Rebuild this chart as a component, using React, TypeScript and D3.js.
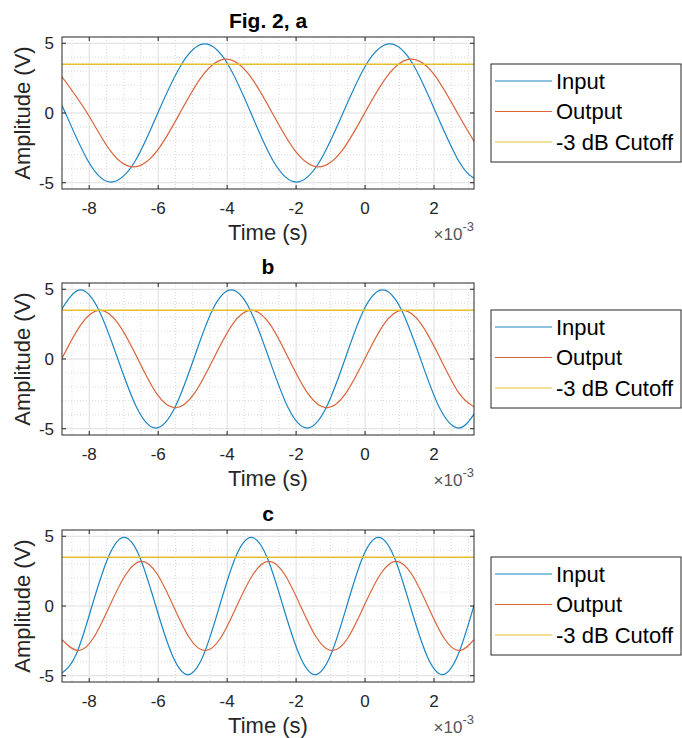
import React from "react";
import * as d3 from "d3";

// ---- Data (time in ms, i.e. ×10^-3 s; amplitude in V) ----
const panelTitles = ["Fig. 2, a", "b", "c"];
const seriesNames = ["Input", "Output", "-3 dB Cutoff"];
const xTicks = [-8, -6, -4, -2, 0, 2];
const yTicks = [-5, 0, 5];
const cutoffLevel = [3.5, 3.5, 3.5];

const inputA: [number, number][] = [
  [-8.79, 0.4], [-8.69, 0], [-8.02, -3.5], [-7.35, -4.95], [-6.68, -3.5], [-6.01, 0],
  [-5.32, 3.5], [-4.65, 4.95], [-3.98, 3.5], [-3.31, 0], [-2.65, -3.5], [-1.99, -4.95],
  [-1.32, -3.5], [-0.64, 0], [0.04, 3.5], [0.72, 4.95], [1.39, 3.5], [2.06, 0],
  [2.73, -3.5], [3.16, -4.68],
];
const outputA: [number, number][] = [
  [-8.79, 2.6], [-8.06, 0], [-7.38, -2.74], [-6.71, -3.87], [-6.04, -2.74], [-5.37, 0],
  [-4.7, 2.74], [-4.03, 3.87], [-3.36, 2.74], [-2.69, 0], [-2.02, -2.74], [-1.35, -3.87],
  [-0.68, -2.74], [-0.01, 0], [0.67, 2.74], [1.34, 3.87], [2.01, 2.74], [2.68, 0],
  [3.16, -2.02],
];
const inputB: [number, number][] = [
  [-8.79, 3.6], [-8.27, 4.95], [-7.72, 3.5], [-7.17, 0], [-6.62, -3.5], [-6.07, -4.95],
  [-5.52, -3.5], [-4.97, 0], [-4.43, 3.5], [-3.88, 4.95], [-3.33, 3.5], [-2.78, 0],
  [-2.23, -3.5], [-1.68, -4.95], [-1.13, -3.5], [-0.58, 0], [-0.04, 3.5], [0.51, 4.95],
  [1.06, 3.5], [1.61, 0], [2.16, -3.5], [2.71, -4.95], [3.16, -3.95],
];
const outputB: [number, number][] = [
  [-8.79, 0.05], [-8.24, 2.47], [-7.69, 3.5], [-7.14, 2.47], [-6.59, 0], [-6.05, -2.47],
  [-5.5, -3.5], [-4.95, -2.47], [-4.4, 0], [-3.85, 2.47], [-3.3, 3.5], [-2.75, 2.47],
  [-2.21, 0], [-1.66, -2.47], [-1.11, -3.5], [-0.56, -2.47], [-0.01, 0], [0.54, 2.47],
  [1.09, 3.5], [1.64, 2.47], [2.19, 0], [2.73, -2.47], [3.16, -3.43],
];
const inputC: [number, number][] = [
  [-8.79, -4.8], [-8.38, -3.48], [-7.92, 0], [-7.45, 3.48], [-6.99, 4.92], [-6.53, 3.48],
  [-6.07, 0], [-5.6, -3.48], [-5.14, -4.92], [-4.68, -3.48], [-4.22, 0], [-3.76, 3.48],
  [-3.3, 4.92], [-2.84, 3.48], [-2.38, 0], [-1.91, -3.48], [-1.45, -4.92], [-0.99, -3.48],
  [-0.53, 0], [-0.07, 3.48], [0.39, 4.92], [0.85, 3.48], [1.31, 0], [1.78, -3.48],
  [2.24, -4.92], [2.7, -3.48], [3.16, 0.05],
];
const outputC: [number, number][] = [
  [-8.79, -2.42], [-8.33, -3.2], [-7.87, -2.26], [-7.41, 0], [-6.94, 2.26], [-6.48, 3.2],
  [-6.02, 2.26], [-5.56, 0], [-5.1, -2.26], [-4.64, -3.2], [-4.18, -2.26], [-3.72, 0],
  [-3.25, 2.26], [-2.79, 3.2], [-2.33, 2.26], [-1.87, 0], [-1.41, -2.26], [-0.95, -3.2],
  [-0.49, -2.26], [-0.03, 0], [0.44, 2.26], [0.9, 3.2], [1.36, 2.26], [1.82, 0],
  [2.28, -2.26], [2.74, -3.2], [3.16, -2.41],
];

const inputs = [inputA, inputB, inputC];
const outputs = [outputA, outputB, outputC];

// ---- Layout / style ----
const W = 682;
const H = 738;
const X_DOMAIN: [number, number] = [-8.79, 3.16];
const Y_DOMAIN: [number, number] = [-5.45, 5.45];
const PLOT_LEFT = 62;
const PLOT_RIGHT = 474;
const PANEL_TOPS = [37, 283, 530];
const PLOT_H = 152;
const COLORS = ["#1a85c4", "#d9643a", "#e3bf2e"];
const AXIS = "#262626";
const FONT = "'Liberation Sans', Arial, Helvetica, sans-serif";

function Panel({ idx }: { idx: number }) {
  const top = PANEL_TOPS[idx];
  const bottom = top + PLOT_H;
  const x = d3.scaleLinear().domain(X_DOMAIN).range([PLOT_LEFT, PLOT_RIGHT]);
  const y = d3.scaleLinear().domain(Y_DOMAIN).range([bottom, top]);
  const line = d3
    .line<[number, number]>()
    .x((d) => x(d[0]))
    .y((d) => y(d[1]))
    .curve(d3.curveNatural);

  const minorX = d3.range(-8.5, 3.2, 0.5).filter((v) => Math.abs(v / 2 - Math.round(v / 2)) > 1e-6 && v >= X_DOMAIN[0] && v <= X_DOMAIN[1]);
  const minorY = d3.range(-5, 5.01, 1).filter((v) => !yTicks.includes(v));
  const clipId = `clip-${idx}`;
  const cutoff = cutoffLevel[idx];
  const legTop = (top + bottom) / 2 - 49;
  const legRows = [17, 47.5, 78];

  return (
    <g>
      <defs>
        <clipPath id={clipId}>
          <rect x={PLOT_LEFT} y={top} width={PLOT_RIGHT - PLOT_LEFT} height={PLOT_H} />
        </clipPath>
      </defs>
      <rect x={PLOT_LEFT} y={top} width={PLOT_RIGHT - PLOT_LEFT} height={PLOT_H} fill="#fff" />
      {/* minor grid */}
      {minorX.map((v) => (
        <line key={`mx${v}`} x1={x(v)} x2={x(v)} y1={top} y2={bottom} stroke="#cfcfcf" strokeWidth={0.8} strokeDasharray="1,2" />
      ))}
      {minorY.map((v) => (
        <line key={`my${v}`} x1={PLOT_LEFT} x2={PLOT_RIGHT} y1={y(v)} y2={y(v)} stroke="#cfcfcf" strokeWidth={0.8} strokeDasharray="1,2" />
      ))}
      {/* major grid */}
      {xTicks.map((v) => (
        <line key={`gx${v}`} x1={x(v)} x2={x(v)} y1={top} y2={bottom} stroke="#dedede" strokeWidth={1} />
      ))}
      {yTicks.map((v) => (
        <line key={`gy${v}`} x1={PLOT_LEFT} x2={PLOT_RIGHT} y1={y(v)} y2={y(v)} stroke="#dedede" strokeWidth={1} />
      ))}
      {/* series */}
      <g clipPath={`url(#${clipId})`}>
        <path d={line(inputs[idx]) || ""} fill="none" stroke={COLORS[0]} strokeWidth={1.2} />
        <path d={line(outputs[idx]) || ""} fill="none" stroke={COLORS[1]} strokeWidth={1.2} />
        <line x1={x(X_DOMAIN[0])} x2={x(X_DOMAIN[1])} y1={y(cutoff)} y2={y(cutoff)} stroke={COLORS[2]} strokeWidth={1.5} />
      </g>
      {/* box */}
      <rect x={PLOT_LEFT} y={top} width={PLOT_RIGHT - PLOT_LEFT} height={PLOT_H} fill="none" stroke={AXIS} strokeWidth={1} />
      {/* ticks */}
      {xTicks.map((v) => (
        <g key={`tx${v}`}>
          <line x1={x(v)} x2={x(v)} y1={bottom} y2={bottom - 4} stroke={AXIS} />
          <line x1={x(v)} x2={x(v)} y1={top} y2={top + 4} stroke={AXIS} />
          <text x={x(v)} y={bottom + 25} textAnchor="middle" fontSize={17} fill={AXIS} fontFamily={FONT}>
            {v}
          </text>
        </g>
      ))}
      {yTicks.map((v) => (
        <g key={`ty${v}`}>
          <line x1={PLOT_LEFT} x2={PLOT_LEFT + 4} y1={y(v)} y2={y(v)} stroke={AXIS} />
          <line x1={PLOT_RIGHT} x2={PLOT_RIGHT - 4} y1={y(v)} y2={y(v)} stroke={AXIS} />
          <text x={PLOT_LEFT - 8} y={y(v)} dy="0.35em" textAnchor="end" fontSize={17} fill={AXIS} fontFamily={FONT}>
            {v}
          </text>
        </g>
      ))}
      {/* labels */}
      <text x={(PLOT_LEFT + PLOT_RIGHT) / 2} y={top - 9} textAnchor="middle" fontSize={21} fontWeight="bold" fill="#000" fontFamily={FONT}>
        {panelTitles[idx]}
      </text>
      <text x={(PLOT_LEFT + PLOT_RIGHT) / 2} y={bottom + 51} textAnchor="middle" fontSize={22} fill={AXIS} fontFamily={FONT}>
        Time (s)
      </text>
      <text transform={`translate(30,${(top + bottom) / 2}) rotate(-90)`} textAnchor="middle" fontSize={22} fill={AXIS} fontFamily={FONT}>
        Amplitude (V)
      </text>
      <text x={PLOT_RIGHT} y={bottom + 51} textAnchor="end" fontSize={17} fill="#555" fontFamily={FONT}>
        ×10<tspan dy={-9} fontSize={13}>-3</tspan>
      </text>
      {/* legend */}
      <rect x={491} y={legTop} width={190} height={98} fill="#fff" stroke={AXIS} strokeWidth={1} />
      {seriesNames.map((name, i) => (
        <g key={name}>
          <line x1={495} x2={552} y1={legTop + legRows[i]} y2={legTop + legRows[i]} stroke={COLORS[i]} strokeWidth={1.2} />
          <text x={556} y={legTop + legRows[i]} dy="0.36em" fontSize={22} fill="#000" fontFamily={FONT}>
            {name}
          </text>
        </g>
      ))}
    </g>
  );
}

export default function App() {
  return (
    <div style={{ position: "absolute", left: 0, top: 0 }}>
      <svg width={W} height={H} viewBox={`0 0 ${W} ${H}`} style={{ display: "block", background: "#fff" }}>
        {panelTitles.map((_, i) => (
          <Panel key={i} idx={i} />
        ))}
      </svg>
    </div>
  );
}
